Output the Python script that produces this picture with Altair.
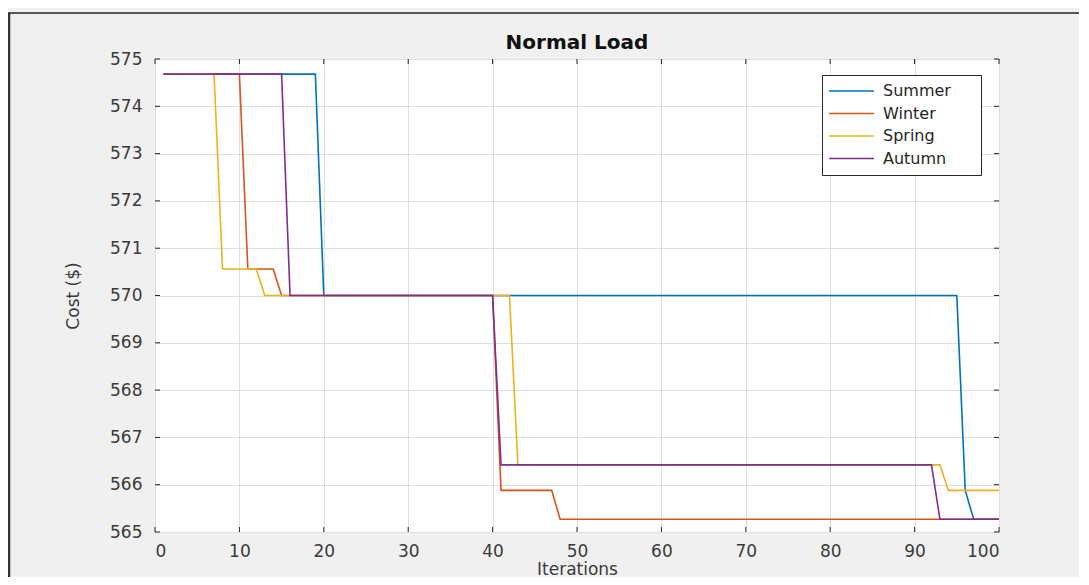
import altair as alt
import pandas as pd

# ---- data (vertices of the step curves) ----
series_names = ["Summer", "Winter", "Spring", "Autumn"]
series_colors = ["#0072BD", "#D95319", "#EDB120", "#7E2F8E"]

summer_iter = [1, 19, 20, 95, 96, 97, 100]
summer_cost = [574.68, 574.68, 570.00, 570.00, 565.88, 565.27, 565.27]

winter_iter = [1, 10, 11, 14, 15, 40, 41, 47, 48, 100]
winter_cost = [574.68, 574.68, 570.56, 570.56, 570.00, 570.00, 565.88, 565.88, 565.27, 565.27]

spring_iter = [1, 7, 8, 12, 13, 42, 43, 93, 94, 100]
spring_cost = [574.68, 574.68, 570.56, 570.56, 570.00, 570.00, 566.42, 566.42, 565.88, 565.88]

autumn_iter = [1, 15, 16, 40, 41, 92, 93, 100]
autumn_cost = [574.68, 574.68, 570.00, 570.00, 566.42, 566.42, 565.27, 565.27]

x_ticks = [0, 10, 20, 30, 40, 50, 60, 70, 80, 90, 100]
y_ticks = [565, 566, 567, 568, 569, 570, 571, 572, 573, 574, 575]

chart_title = "Normal Load"
x_title = "Iterations"
y_title = "Cost ($)"

# ---- build table ----
rows = []
for name, its, costs in zip(series_names,
                            [summer_iter, winter_iter, spring_iter, autumn_iter],
                            [summer_cost, winter_cost, spring_cost, autumn_cost]):
    for i, c in zip(its, costs):
        rows.append({"series": name, "iter": i, "cost": c})
df = pd.DataFrame(rows)

xt = pd.DataFrame({"t": x_ticks})
yt = pd.DataFrame({"t": y_ticks})

W, H = 844, 473
TICK = 5
DARK = "#262626"
FONT = "DejaVu Sans"

xscale = alt.Scale(domain=[0, 100], nice=False, zero=False)
yscale = alt.Scale(domain=[565, 575], nice=False, zero=False)

x_axis = alt.Axis(values=x_ticks, title=x_title, grid=True, ticks=False, domain=False,
                  gridColor="#dedede", gridWidth=1,
                  labelFont=FONT, labelFontSize=17, labelColor="#3a3a3a", labelPadding=11,
                  titleFont=FONT, titleFontSize=17, titleFontWeight="normal", titleColor="#3a3a3a",
                  titleBaseline="top", titleY=29)
y_axis = alt.Axis(values=y_ticks, title=y_title, grid=True, ticks=False, domain=False,
                  gridColor="#dedede", gridWidth=1,
                  labelFont=FONT, labelFontSize=17, labelColor="#3a3a3a", labelPadding=13,
                  titleFont=FONT, titleFontSize=17, titleFontWeight="normal", titleColor="#3a3a3a",
                  titleAngle=270, titleAlign="center", titleBaseline="middle",
                  titleX=-82, titleY=H / 2)

lines = alt.Chart(df).mark_line(strokeWidth=1.6, clip=True).encode(
    x=alt.X("iter:Q", scale=xscale, axis=x_axis),
    y=alt.Y("cost:Q", scale=yscale, axis=y_axis),
    color=alt.Color("series:N", sort=series_names,
                    scale=alt.Scale(domain=series_names, range=series_colors),
                    legend=alt.Legend(orient="none", legendX=667, legendY=16, title=None,
                                      symbolType="stroke", symbolSize=2025, symbolStrokeWidth=1.6,
                                      clipHeight=20, rowPadding=2.5,
                                      labelFont=FONT, labelFontSize=16, labelColor=DARK,
                                      labelExpr="datum.label + '\u2800\u2800'",
                                      labelOffset=8, strokeColor=DARK, fillColor="white",
                                      padding=6)),
    order=alt.Order("iter:Q"),
)

tick_bottom = alt.Chart(xt).mark_rule(color=DARK, strokeWidth=1).encode(
    x=alt.X("t:Q", scale=xscale), y=alt.value(H), y2=alt.value(H - TICK))
tick_top = alt.Chart(xt).mark_rule(color=DARK, strokeWidth=1).encode(
    x=alt.X("t:Q", scale=xscale), y=alt.value(0), y2=alt.value(TICK))
tick_left = alt.Chart(yt).mark_rule(color=DARK, strokeWidth=1).encode(
    y=alt.Y("t:Q", scale=yscale), x=alt.value(0), x2=alt.value(TICK))
tick_right = alt.Chart(yt).mark_rule(color=DARK, strokeWidth=1).encode(
    y=alt.Y("t:Q", scale=yscale), x=alt.value(W), x2=alt.value(W - TICK))

one = pd.DataFrame({"a": [0]})

# chart title as a text mark (kept above the plot box)
title_mark = alt.Chart(one).mark_text(text=chart_title, font=FONT, fontSize=20, fontWeight="bold",
                                      color="#111111", align="center", baseline="alphabetic").encode(
    x=alt.value(W / 2), y=alt.value(-10))

# window frame of the screenshot (decoration)
frame_top = alt.Chart(one).mark_rule(color="#222222", strokeWidth=1.5).encode(
    x=alt.value(-147), x2=alt.value(W + 80), y=alt.value(-46))
frame_left = alt.Chart(one).mark_rule(color="#333333", strokeWidth=2.5).encode(
    x=alt.value(-146), y=alt.value(-46), y2=alt.value(H + 45))

chart = alt.layer(lines, tick_bottom, tick_top, tick_left, tick_right,
                  title_mark, frame_top, frame_left).properties(
    width=W, height=H,
    padding={"left": 147, "top": 51, "right": 80, "bottom": 45},
    autosize=alt.AutoSizeParams(type="none"),
    background="#f0f0f0",
).configure_view(stroke=DARK, strokeWidth=1, fill="white")

chart.save("out.html", embed_options={"renderer": "svg", "actions": False})
